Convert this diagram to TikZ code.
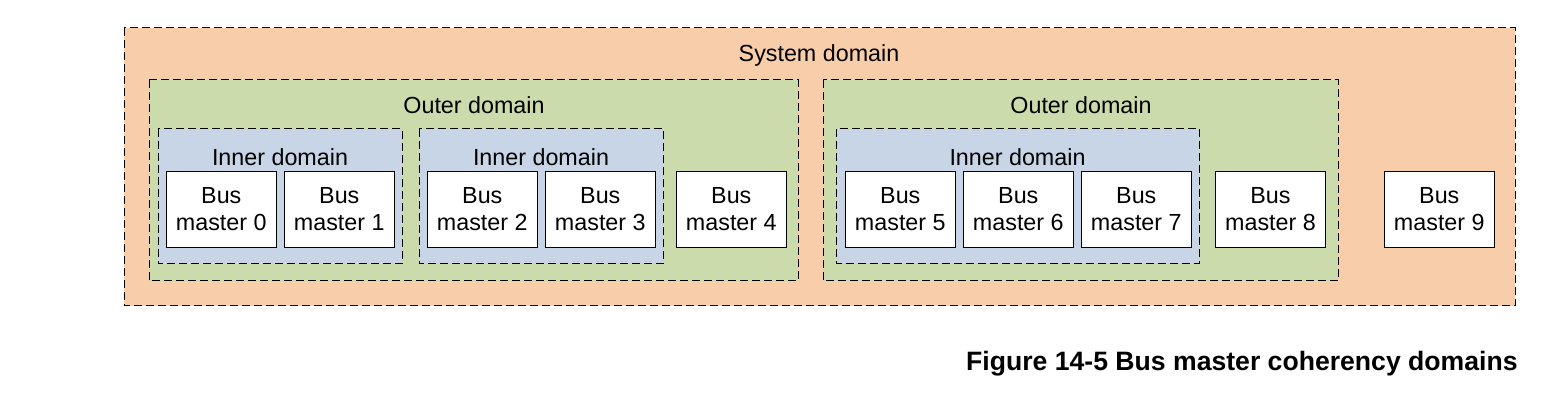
\documentclass[tikz,border=0pt]{standalone}
\usepackage{fontspec}
\setmainfont{Liberation Sans}
\definecolor{sysfill}{HTML}{F8CDAA}
\definecolor{outfill}{HTML}{CCDBAC}
\definecolor{innfill}{HTML}{C8D5E6}
\begin{document}
\begin{tikzpicture}[x=0.5pt,y=-0.5pt,
  dombox/.style={draw=black, line width=0.5pt, dash pattern=on 4pt off 2pt},
  lbl/.style={inner sep=0pt, font=\fontsize{11.65}{13.5}\selectfont},
  bm/.style={draw=black, fill=white, line width=0.5pt, minimum width=55.25pt, minimum height=38pt, inner sep=0pt, align=center, font=\fontsize{11.65}{13.5}\selectfont}]
\useasboundingbox (0,0) rectangle (1564,406);
% system domain
\draw[dombox, fill=sysfill] (124,28) rectangle (1515,306);
\node[lbl] (syslbl) at (819,55) {System domain};
% outer domains
\draw[dombox, fill=outfill] (149,80) rectangle (798,281);
\node[lbl] (out1lbl) at (474,105) {Outer domain};
\draw[dombox, fill=outfill] (823,80) rectangle (1338,281);
\node[lbl] (out2lbl) at (1081,105) {Outer domain};
% inner domains
\draw[dombox, fill=innfill] (158,129) rectangle (402,264);
\node[lbl] (in1lbl) at (280,157) {Inner domain};
\draw[dombox, fill=innfill] (419,129) rectangle (663.5,264);
\node[lbl] (in2lbl) at (541,157) {Inner domain};
\draw[dombox, fill=innfill] (836.5,129) rectangle (1199,264);
\node[lbl] (in3lbl) at (1017.5,157) {Inner domain};
% bus masters
\node[bm] (bm0) at (221.3,209.5) {Bus\\master 0};
\node[bm] (bm1) at (339.3,209.5) {Bus\\master 1};
\node[bm] (bm2) at (482.3,209.5) {Bus\\master 2};
\node[bm] (bm3) at (600.3,209.5) {Bus\\master 3};
\node[bm] (bm4) at (731.3,209.5) {Bus\\master 4};
\node[bm] (bm5) at (900.3,209.5) {Bus\\master 5};
\node[bm] (bm6) at (1018.3,209.5) {Bus\\master 6};
\node[bm] (bm7) at (1136.3,209.5) {Bus\\master 7};
\node[bm] (bm8) at (1270.5,209.5) {Bus\\master 8};
\node[bm] (bm9) at (1439.3,209.5) {Bus\\master 9};
% caption
\node[inner sep=0pt, anchor=base east, font=\fontsize{13.3}{16}\selectfont\bfseries] (cap) at (1518,370.5) {Figure 14-5 Bus master coherency domains};
\end{tikzpicture}
\end{document}
